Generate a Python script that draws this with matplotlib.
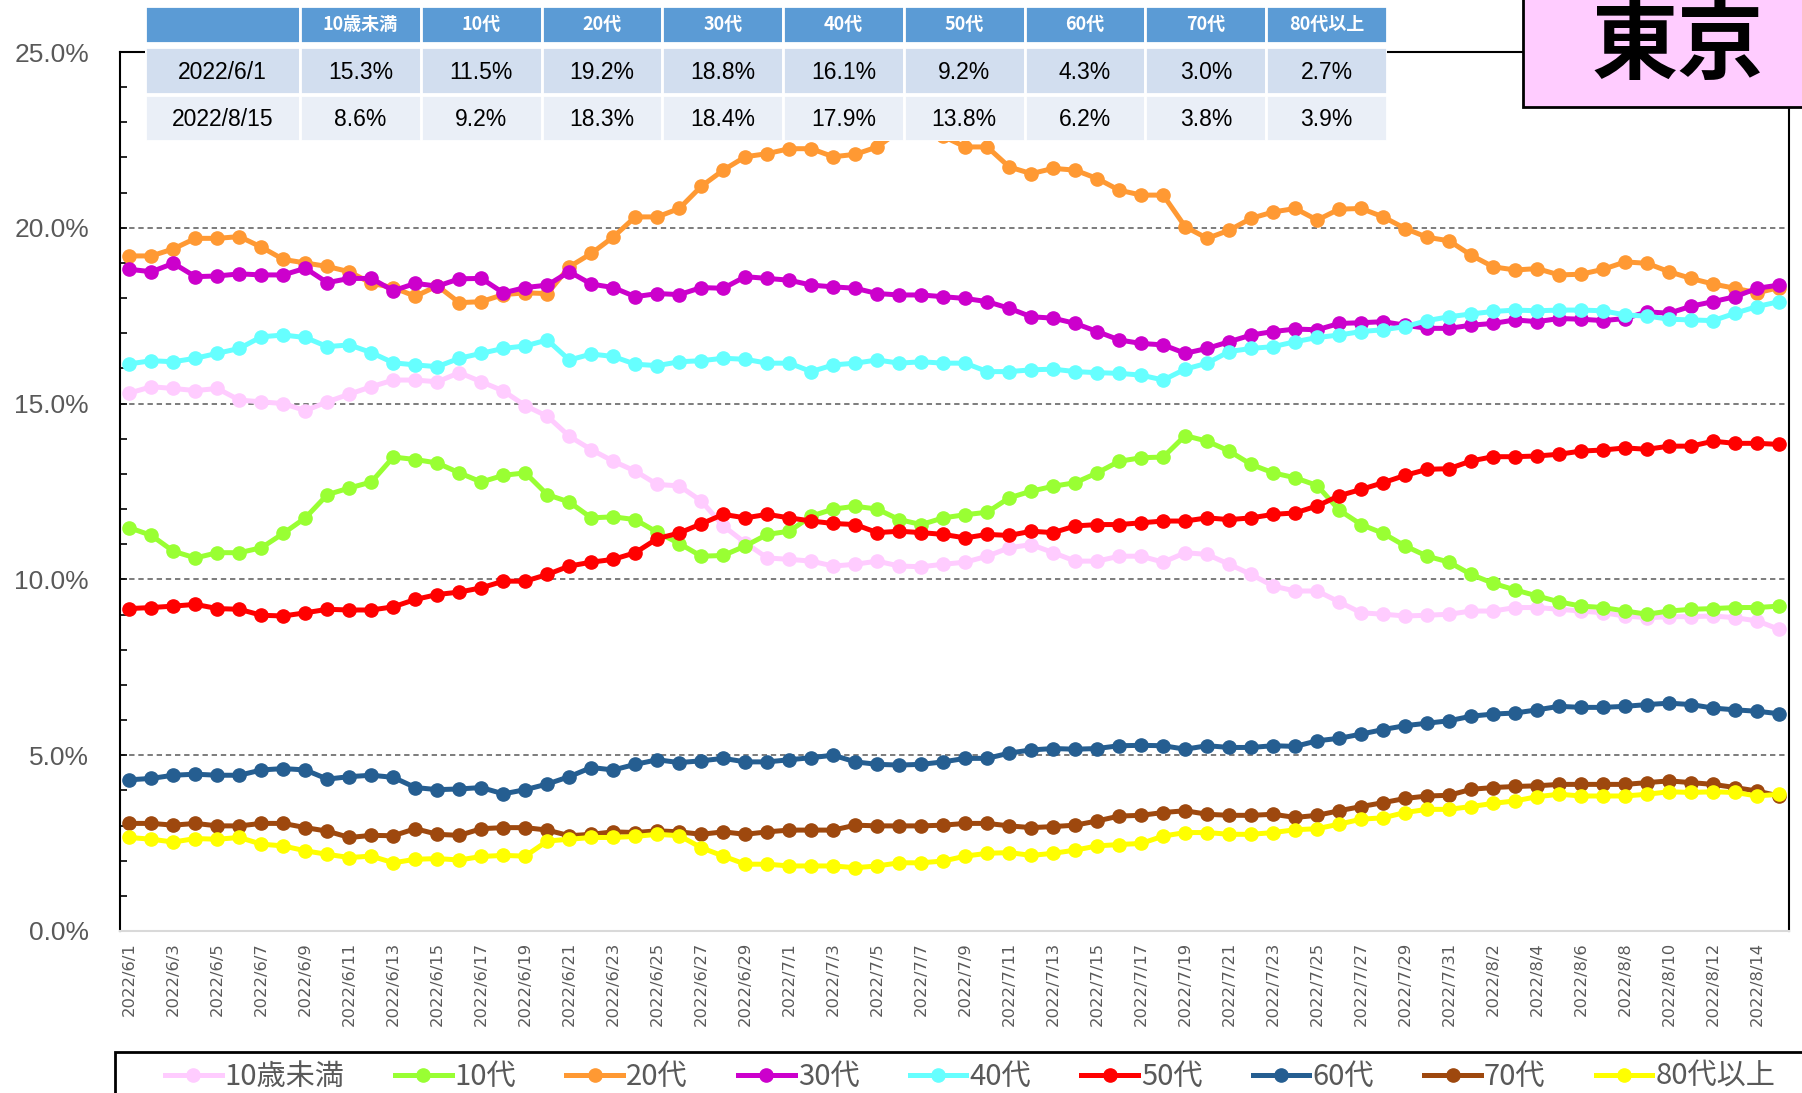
import matplotlib
matplotlib.use('Agg')
import matplotlib.pyplot as plt
from matplotlib.patches import Rectangle
from matplotlib.lines import Line2D
from matplotlib.ticker import MultipleLocator, FuncFormatter
import pandas as pd

plt.rcParams['font.family'] = ['Noto Sans CJK JP', 'DejaVu Sans']

# ---- data ----
dates = pd.date_range('2022-06-01', '2022-08-15')
date_labels = [f'{d.year}/{d.month}/{d.day}' for d in dates]

groups = ['10歳未満', '10代', '20代', '30代', '40代', '50代', '60代', '70代', '80代以上']
colors = ['#FFCCFF', '#99FF33', '#FF9933', '#CC00CC', '#66FFFF', '#FF0000', '#255E91', '#9E480E', '#FFFF00']

under10 = [15.30, 15.48, 15.43, 15.37, 15.43, 15.10, 15.05, 15.00, 14.80, 15.05,
           15.27, 15.48, 15.67, 15.67, 15.62, 15.88, 15.62, 15.36, 14.94, 14.64,
           14.07, 13.69, 13.36, 13.08, 12.70, 12.66, 12.23, 11.52, 11.04, 10.61,
           10.57, 10.52, 10.38, 10.43, 10.52, 10.38, 10.36, 10.43, 10.49, 10.66,
           10.90, 10.99, 10.76, 10.52, 10.52, 10.66, 10.66, 10.49, 10.76, 10.71,
           10.43, 10.14, 9.81, 9.67, 9.67, 9.36, 9.05, 9.01, 8.96, 8.98,
           9.01, 9.10, 9.10, 9.20, 9.20, 9.15, 9.10, 9.05, 8.96, 8.91,
           8.94, 8.94, 8.96, 8.91, 8.82, 8.58]
teens = [11.47, 11.25, 10.80, 10.61, 10.76, 10.76, 10.90, 11.31, 11.75, 12.41,
         12.60, 12.77, 13.48, 13.41, 13.31, 13.03, 12.77, 12.96, 13.03, 12.41,
         12.20, 11.75, 11.78, 11.70, 11.34, 11.02, 10.66, 10.68, 10.95, 11.28,
         11.37, 11.80, 12.00, 12.08, 12.00, 11.70, 11.56, 11.75, 11.84, 11.91,
         12.32, 12.51, 12.65, 12.75, 13.03, 13.36, 13.46, 13.48, 14.09, 13.93,
         13.65, 13.27, 13.03, 12.89, 12.67, 11.97, 11.56, 11.31, 10.95, 10.66,
         10.49, 10.14, 9.89, 9.70, 9.53, 9.36, 9.24, 9.20, 9.10, 9.01,
         9.10, 9.15, 9.17, 9.20, 9.20, 9.24]
twenties = [19.20, 19.20, 19.40, 19.70, 19.70, 19.75, 19.45, 19.10, 19.00, 18.90,
            18.75, 18.42, 18.30, 18.05, 18.35, 17.87, 17.90, 18.10, 18.15, 18.13,
            18.89, 19.27, 19.74, 20.31, 20.31, 20.55, 21.18, 21.64, 22.02, 22.11,
            22.25, 22.25, 22.02, 22.09, 22.30, 22.75, 22.85, 22.60, 22.30, 22.30,
            21.73, 21.54, 21.69, 21.64, 21.40, 21.07, 20.93, 20.93, 20.03, 19.70,
            19.93, 20.27, 20.45, 20.55, 20.22, 20.53, 20.55, 20.31, 19.98, 19.73,
            19.63, 19.22, 18.89, 18.80, 18.84, 18.66, 18.68, 18.82, 19.03, 18.99,
            18.75, 18.56, 18.40, 18.28, 18.15, 18.30]
thirties = [18.82, 18.75, 18.99, 18.61, 18.63, 18.69, 18.66, 18.66, 18.85, 18.44,
            18.56, 18.56, 18.21, 18.42, 18.34, 18.55, 18.56, 18.15, 18.30, 18.37,
            18.75, 18.40, 18.30, 18.04, 18.13, 18.10, 18.30, 18.28, 18.61, 18.56,
            18.51, 18.37, 18.32, 18.28, 18.13, 18.09, 18.09, 18.04, 17.99, 17.90,
            17.71, 17.47, 17.43, 17.28, 17.05, 16.81, 16.71, 16.67, 16.43, 16.57,
            16.76, 16.95, 17.05, 17.12, 17.10, 17.28, 17.30, 17.33, 17.23, 17.14,
            17.14, 17.23, 17.28, 17.38, 17.33, 17.42, 17.40, 17.36, 17.42, 17.61,
            17.57, 17.77, 17.90, 18.04, 18.28, 18.37]
forties = [16.13, 16.22, 16.19, 16.29, 16.43, 16.57, 16.90, 16.95, 16.88, 16.62,
           16.67, 16.45, 16.16, 16.10, 16.05, 16.29, 16.43, 16.57, 16.64, 16.81,
           16.24, 16.41, 16.34, 16.12, 16.08, 16.19, 16.22, 16.29, 16.26, 16.15,
           16.15, 15.91, 16.10, 16.15, 16.24, 16.15, 16.19, 16.15, 16.15, 15.91,
           15.91, 15.96, 15.98, 15.91, 15.88, 15.86, 15.81, 15.67, 15.98, 16.15,
           16.48, 16.57, 16.62, 16.76, 16.88, 16.95, 17.05, 17.10, 17.19, 17.36,
           17.47, 17.55, 17.62, 17.66, 17.64, 17.66, 17.66, 17.64, 17.52, 17.49,
           17.40, 17.38, 17.36, 17.57, 17.76, 17.90]
fifties = [9.17, 9.20, 9.24, 9.29, 9.17, 9.15, 8.98, 8.96, 9.05, 9.15,
           9.13, 9.13, 9.22, 9.43, 9.57, 9.64, 9.76, 9.95, 9.95, 10.14,
           10.38, 10.49, 10.57, 10.76, 11.16, 11.32, 11.58, 11.85, 11.75, 11.85,
           11.75, 11.66, 11.59, 11.56, 11.33, 11.37, 11.33, 11.28, 11.18, 11.28,
           11.25, 11.37, 11.33, 11.52, 11.56, 11.56, 11.61, 11.66, 11.66, 11.75,
           11.70, 11.75, 11.85, 11.89, 12.09, 12.38, 12.56, 12.75, 12.96, 13.13,
           13.15, 13.37, 13.49, 13.49, 13.51, 13.56, 13.65, 13.68, 13.74, 13.70,
           13.79, 13.79, 13.93, 13.87, 13.87, 13.84]
sixties = [4.30, 4.34, 4.43, 4.46, 4.43, 4.43, 4.58, 4.62, 4.58, 4.32,
           4.39, 4.43, 4.37, 4.08, 4.02, 4.04, 4.08, 3.90, 4.02, 4.18,
           4.39, 4.65, 4.58, 4.74, 4.87, 4.79, 4.84, 4.91, 4.81, 4.81,
           4.87, 4.93, 5.00, 4.81, 4.74, 4.72, 4.74, 4.81, 4.91, 4.91,
           5.06, 5.15, 5.19, 5.17, 5.19, 5.27, 5.28, 5.27, 5.17, 5.27,
           5.22, 5.22, 5.27, 5.25, 5.41, 5.48, 5.60, 5.73, 5.84, 5.91,
           5.98, 6.11, 6.17, 6.20, 6.29, 6.39, 6.36, 6.36, 6.39, 6.44,
           6.48, 6.44, 6.34, 6.29, 6.25, 6.18]
seventies = [3.06, 3.06, 3.01, 3.06, 2.99, 2.99, 3.06, 3.06, 2.94, 2.84,
             2.66, 2.72, 2.71, 2.91, 2.75, 2.72, 2.91, 2.94, 2.94, 2.87,
             2.71, 2.75, 2.82, 2.80, 2.85, 2.82, 2.75, 2.82, 2.75, 2.82,
             2.87, 2.87, 2.87, 3.01, 2.99, 2.99, 2.99, 3.01, 3.06, 3.06,
             2.99, 2.94, 2.97, 3.01, 3.13, 3.27, 3.29, 3.37, 3.42, 3.32,
             3.29, 3.29, 3.32, 3.23, 3.29, 3.42, 3.54, 3.65, 3.77, 3.84,
             3.86, 4.03, 4.08, 4.11, 4.13, 4.17, 4.17, 4.17, 4.17, 4.22,
             4.27, 4.22, 4.17, 4.08, 3.98, 3.84]
over80 = [2.66, 2.61, 2.53, 2.63, 2.61, 2.66, 2.47, 2.42, 2.28, 2.18,
          2.09, 2.13, 1.94, 2.04, 2.06, 2.02, 2.12, 2.15, 2.13, 2.56,
          2.61, 2.66, 2.66, 2.69, 2.75, 2.71, 2.37, 2.13, 1.90, 1.90,
          1.85, 1.85, 1.85, 1.80, 1.85, 1.94, 1.94, 1.99, 2.13, 2.21,
          2.23, 2.15, 2.21, 2.30, 2.42, 2.46, 2.49, 2.70, 2.80, 2.80,
          2.75, 2.75, 2.80, 2.88, 2.91, 3.04, 3.18, 3.22, 3.37, 3.46,
          3.46, 3.54, 3.63, 3.70, 3.82, 3.89, 3.84, 3.84, 3.84, 3.89,
          3.96, 3.94, 3.96, 3.94, 3.84, 3.89]
series = [under10, teens, twenties, thirties, forties, fifties, sixties, seventies, over80]

# summary table
table_dates = ['2022/6/1', '2022/8/15']
table_first = ['15.3%', '11.5%', '19.2%', '18.8%', '16.1%', '9.2%', '4.3%', '3.0%', '2.7%']
table_last = ['8.6%', '9.2%', '18.3%', '18.4%', '17.9%', '13.8%', '6.2%', '3.8%', '3.9%']

title = '東京'

# ---- figure ----
W, H = 1802, 1093
fig = plt.figure(figsize=(W / 100, H / 100), dpi=100)


def fx(px):
    return px / W


def fy(py):
    return 1 - py / H


ax = fig.add_axes([fx(119.5), fy(931), fx(1789) - fx(119.5), fy(52) - fy(931)])
x = list(range(len(dates)))
for vals, name, c in zip(series, groups, colors):
    ax.plot(x, vals, color=c, lw=3.6, marker='o', ms=9.5, label=name, zorder=3)

for g in [5, 10, 15, 20]:
    ax.axhline(g, color='#595959', lw=1.1, ls=(0, (3.5, 2.5)), zorder=1)

ax.set_xlim(-0.45, len(x) - 0.55)
ax.set_ylim(0, 25)
ax.yaxis.set_major_locator(MultipleLocator(5))
ax.yaxis.set_minor_locator(MultipleLocator(1))
ax.yaxis.set_major_formatter(FuncFormatter(lambda v, p: f'{v:.1f}%'))
ax.tick_params(axis='y', which='both', direction='in', length=5, width=1.2, color='black',
               labelcolor='#595959', labelsize=19, pad=22)
for lab in ax.get_yticklabels():
    lab.set_family('Liberation Sans')
ax.set_xticks(x[::2])
ax.set_xticklabels(date_labels[::2], rotation=90, fontsize=11.8, color='#595959', family='DejaVu Sans')
ax.tick_params(axis='x', length=0, pad=8)

for s in ['left', 'top', 'right']:
    ax.spines[s].set_color('black')
    ax.spines[s].set_linewidth(1.5)
ax.spines['bottom'].set_color('#D9D9D9')
ax.spines['bottom'].set_linewidth(1.5)

# ---- table ----
tx0, tx1, ty0, ty1 = 145, 1387, 6, 141
tab = fig.add_axes([fx(tx0), fy(ty1), fx(tx1) - fx(tx0), fy(ty0) - fy(ty1)])
tab.set_xlim(tx0, tx1)
tab.set_ylim(ty1, ty0)
tab.axis('off')
col_w = (tx1 - 300) / len(groups)
col_edges = [tx0, 300] + [300 + col_w * (k + 1) for k in range(len(groups))]
rows = [(6, 43, '#5B9BD5'), (47, 94, '#D2DEEF'), (95, 141, '#EAEFF7')]
row_text = [[''] + groups, [table_dates[0]] + table_first, [table_dates[1]] + table_last]
for r, (y0, y1, fc) in enumerate(rows):
    for c in range(len(col_edges) - 1):
        x0, x1 = col_edges[c], col_edges[c + 1]
        tab.add_patch(Rectangle((x0, y0), x1 - x0, y1 - y0, facecolor=fc, edgecolor='white', lw=2))
        txt = row_text[r][c]
        if r == 0:
            tab.text((x0 + x1) / 2, (y0 + y1) / 2, txt, ha='center', va='center', color='white',
                     fontsize=13, fontweight='bold')
        else:
            tab.text((x0 + x1) / 2, (y0 + y1) / 2 + 2, txt, ha='center', va='center', color='black',
                     fontsize=16.5, family='Liberation Sans')

# ---- title box ----
fig.add_artist(Rectangle((fx(1523), fy(107)), fx(1830) - fx(1523), fy(-20) - fy(107),
                         transform=fig.transFigure, facecolor='#FFCCFF', edgecolor='black', lw=2))
fig.text(fx(1678), fy(47), title, ha='center', va='center', fontsize=62, fontweight='bold', color='black')

# ---- legend ----
fig.add_artist(Rectangle((fx(115), fy(1130)), fx(1830) - fx(115), fy(1052) - fy(1130),
                         transform=fig.transFigure, facecolor='white', edgecolor='black', lw=2))
handles = [Line2D([], [], color=c, lw=3.6, marker='o', ms=9.5) for c in colors]
fig.legend(handles, groups, loc='center left', bbox_to_anchor=(fx(165), fy(1077)), ncol=len(groups),
           frameon=False, borderpad=0, borderaxespad=0, handlelength=1.95, handletextpad=0.1,
           columnspacing=1.72, fontsize=21, labelcolor='#595959')

fig.savefig('out.png', dpi=100)
